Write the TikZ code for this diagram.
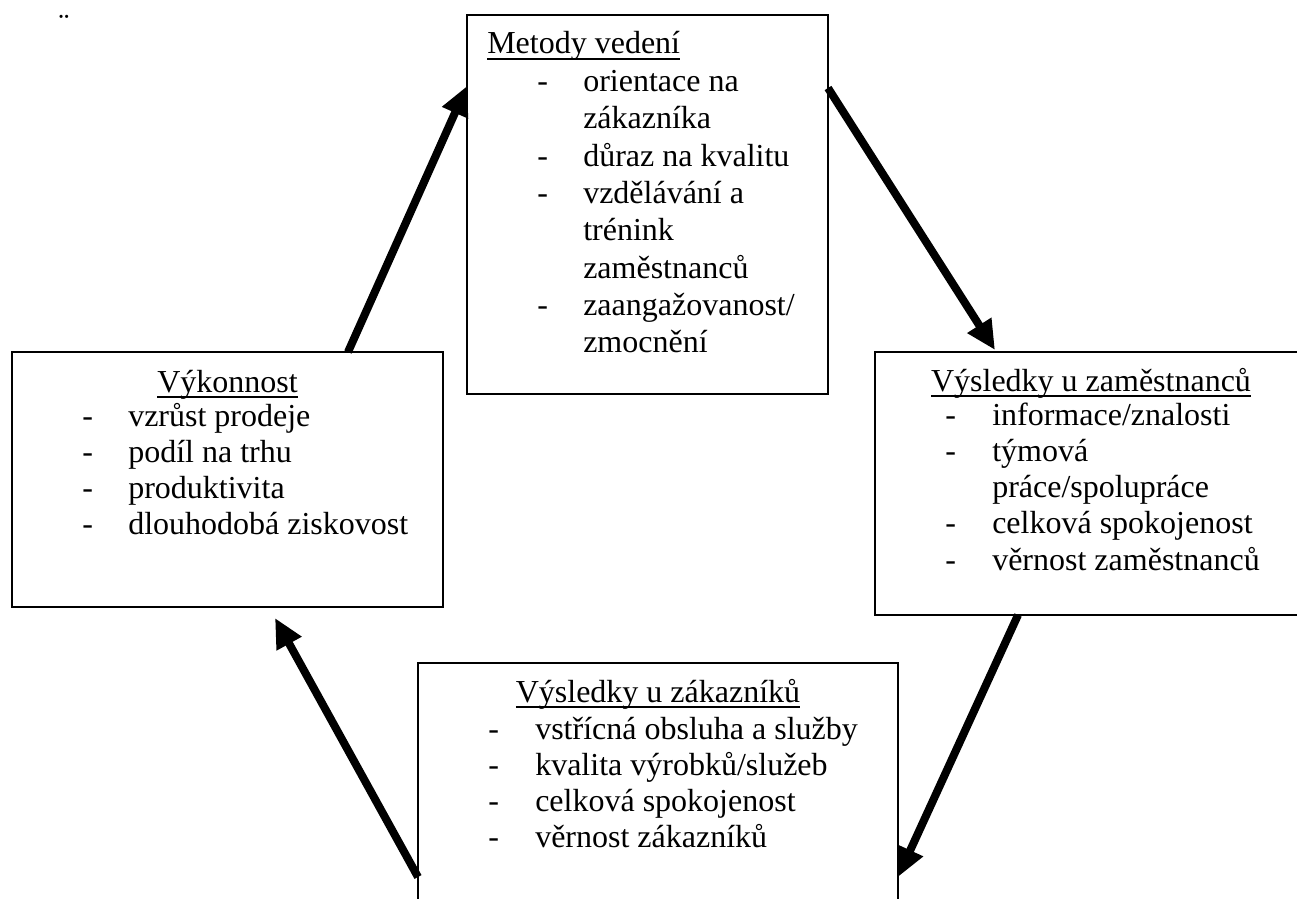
\documentclass[tikz,border=0pt]{standalone}
\usepackage{fontspec}
\setmainfont{Liberation Serif}
\usetikzlibrary{arrows.meta}
\newcommand\myul[1]{\setbox0\hbox{#1}\rlap{\rule[-4.3pt]{\wd0}{1.1pt}}\box0}
\begin{document}
\begin{tikzpicture}[x=0.75pt,y=-0.75pt,
  font=\fontsize{24}{28}\selectfont,
  boxst/.style={draw=black, line width=1.3pt, inner sep=0pt, outer sep=0pt},
  hdc/.style={inner sep=0pt, anchor=base},
  hdl/.style={inner sep=0pt, anchor=base west},
  txt/.style={inner sep=0pt, anchor=base west},
  flow/.style={line width=6pt, -{Triangle[length=22pt,width=20pt]}}]
\useasboundingbox (0,0) rectangle (1297,899);
\clip (0,0) rectangle (1297,899);

% diaeresis mark
\node[hdc] (dia) at (64,36) {¨};

% boxes
\node[boxst, minimum width=270.75pt, minimum height=284.25pt] (meth) at (647.5,204.5) {};
\node[boxst, minimum width=323.25pt, minimum height=191.25pt] (perf) at (227.5,479.5) {};
\node[boxst, minimum width=324pt, minimum height=197.25pt] (empl) at (1091,483.5) {};
\node[boxst, minimum width=360pt, minimum height=192.75pt] (cust) at (658,791.5) {};

% Metody vedeni
\node[hdl] (mh) at (487,54) {\myul{Metody vedení}};
\node[txt] (md1) at (537,91.5) {-};
\node[txt] (mt1) at (583,91.5) {orientace na};
\node[txt] (mt1b) at (583,128.8) {zákazníka};
\node[txt] (md2) at (537,166.1) {-};
\node[txt] (mt2) at (583,166.1) {důraz na kvalitu};
\node[txt] (md3) at (537,203.4) {-};
\node[txt] (mt3) at (583,203.4) {vzdělávání a};
\node[txt] (mt3b) at (583,240.7) {trénink};
\node[txt] (mt3c) at (583,278) {zaměstnanců};
\node[txt] (md4) at (537,315.3) {-};
\node[txt] (mt4) at (583,315.3) {zaangažovanost/};
\node[txt] (mt4b) at (583,352.6) {zmocnění};

% Vykonnost
\node[hdc] (ph) at (227.5,392) {\myul{Výkonnost}};
\node[txt] (pd1) at (82,426) {-};
\node[txt] (pt1) at (128,426) {vzrůst prodeje};
\node[txt] (pd2) at (82,462) {-};
\node[txt] (pt2) at (128,462) {podíl na trhu};
\node[txt] (pd3) at (82,498) {-};
\node[txt] (pt3) at (128,498) {produktivita};
\node[txt] (pd4) at (82,534) {-};
\node[txt] (pt4) at (128,534) {dlouhodobá ziskovost};

% Vysledky u zamestnancu
\node[hdc] (eh) at (1091,391) {\myul{Výsledky u zaměstnanců}};
\node[txt] (ed1) at (945,425) {-};
\node[txt] (et1) at (992,425) {informace/znalosti};
\node[txt] (ed2) at (945,461) {-};
\node[txt] (et2) at (992,461) {týmová};
\node[txt] (et2b) at (992,497) {práce/spolupráce};
\node[txt] (ed3) at (945,533) {-};
\node[txt] (et3) at (992,533) {celková spokojenost};
\node[txt] (ed4) at (945,570) {-};
\node[txt] (et4) at (992,570) {věrnost zaměstnanců};

% Vysledky u zakazniku
\node[hdc] (ch) at (658,702) {\myul{Výsledky u zákazníků}};
\node[txt] (cd1) at (488,739) {-};
\node[txt] (ct1) at (535,739) {vstřícná obsluha a služby};
\node[txt] (cd2) at (488,775) {-};
\node[txt] (ct2) at (535,775) {kvalita výrobků/služeb};
\node[txt] (cd3) at (488,811) {-};
\node[txt] (ct3) at (535,811) {celková spokojenost};
\node[txt] (cd4) at (488,847) {-};
\node[txt] (ct4) at (535,847) {věrnost zákazníků};

% arrow end points
\coordinate (a1s) at (348,352);
\coordinate (a1e) at (467,86);
\coordinate (a2s) at (828,88);
\coordinate (a2e) at (995,350);
\coordinate (a3s) at (1018,615);
\coordinate (a3e) at (898,877);
\coordinate (a4s) at (418,877);
\coordinate (a4e) at (275,618);

\draw[flow] (a1s) -- (a1e);
\draw[flow] (a2s) -- (a2e);
\draw[flow] (a3s) -- (a3e);
\draw[flow] (a4s) -- (a4e);
\end{tikzpicture}
\end{document}
